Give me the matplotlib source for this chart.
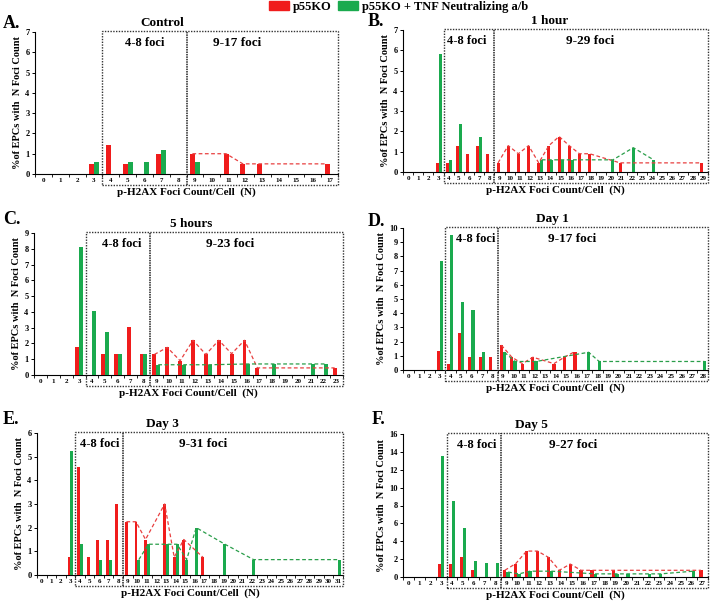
import matplotlib.pyplot as plt
from matplotlib.patches import Rectangle, Patch
import matplotlib.transforms as mtransforms
import numpy as np

plt.rcParams['font.family'] = ['Liberation Serif', 'DejaVu Serif']
plt.rcParams['font.weight'] = 'bold'
plt.rcParams['axes.labelweight'] = 'bold'

RED = '#f01c1c'
GREEN = '#1aaa4e'

# % of EPCs with N foci, index = N (foci count per cell)
control_red = [0, 0, 0, 0.5, 1.45, 0.5, 0, 1.0, 0, 1.0, 0, 1.0, 0.5, 0.5, 0, 0, 0, 0.5]
control_green = [0, 0, 0, 0.6, 0, 0.6, 0.6, 1.2, 0, 0.6, 0, 0, 0, 0, 0, 0, 0, 0]

hour1_red = [0, 0, 0, 0.45, 0.45, 1.3, 0.9, 1.3, 0.9, 0.45, 1.3, 0.9, 1.3, 0.45, 1.3,
             1.75, 1.3, 0.9, 0.9, 0, 0, 0.45, 0, 0, 0, 0, 0, 0, 0, 0.45]
hour1_green = [0, 0, 0, 5.8, 0.6, 2.35, 0, 1.75, 0, 0, 0, 0, 0, 0.6, 0.6,
               0.6, 0.6, 0, 0, 0, 0.6, 0, 1.2, 0, 0.6, 0, 0, 0, 0, 0]

hour5_red = [0, 0, 0, 1.75, 0, 1.3, 1.3, 3.05, 1.3, 1.3, 1.75, 0.9, 2.2, 1.3, 2.2,
             1.35, 2.2, 0.45, 0, 0, 0, 0, 0, 0.45]
hour5_green = [0, 0, 0, 8.1, 4.05, 2.7, 1.35, 0, 1.35, 0.65, 0, 0.65, 0, 0.65, 0,
               0, 0.7, 0, 0.7, 0, 0, 0.7, 0.7, 0]

day1_red = [0, 0, 0, 1.35, 0.45, 2.6, 0.9, 0.9, 0.9, 1.75, 0.9, 0.45, 0.9, 0, 0.45,
            0.9, 1.3, 0, 0, 0, 0, 0, 0, 0, 0, 0, 0, 0, 0]
day1_green = [0, 0, 0, 7.7, 9.5, 4.8, 4.2, 1.25, 0, 1.25, 0.6, 0, 0.6, 0, 0,
              0, 0, 1.25, 0.6, 0, 0, 0, 0, 0, 0, 0, 0, 0, 0.6]

day3_red = [0, 0, 0, 0.75, 4.55, 0.75, 1.5, 1.5, 3.0, 2.25, 2.25, 1.5, 0, 3.0, 0.75,
            1.5, 0, 0.75, 0, 0, 0, 0, 0, 0, 0, 0, 0, 0, 0, 0, 0, 0]
day3_green = [0, 0, 0, 5.25, 1.3, 0, 0.65, 0.65, 0, 0, 0.65, 1.3, 0, 1.3, 1.3,
              0.65, 2.0, 0, 0, 1.3, 0, 0, 0.65, 0, 0, 0, 0, 0, 0, 0, 0, 0.65]

day5_red = [0, 0, 0, 1.5, 1.5, 2.2, 0.75, 0, 0, 0.75, 1.5, 2.9, 2.9, 2.2, 0.75,
            1.45, 0.75, 0.75, 0, 0.75, 0, 0, 0, 0, 0, 0, 0, 0.75]
day5_green = [0, 0, 0, 13.5, 8.5, 5.5, 1.8, 1.55, 1.55, 0.55, 0.35, 0.65, 0, 0.65, 0,
              0, 0, 0.35, 0, 0.35, 0.35, 0, 0.35, 0.35, 0, 0, 0.65, 0]

letters = ['A.', 'B.', 'C.', 'D.', 'E.', 'F.']
titles = ['Control', '1 hour', '5 hours', 'Day 1', 'Day 3', 'Day 5']
high_labels = ['9-17 foci', '9-29 foci', '9-23 foci', '9-17 foci', '9-31 foci', '9-27 foci']
y_tops = [7, 7, 9, 10, 6, 16]
y_steps = [1, 1, 1, 1, 1, 2]
green_line_start = [9, 13, 9, 9, 10, 9]
reds = [control_red, hour1_red, hour5_red, day1_red, day3_red, day5_red]
greens = [control_green, hour1_green, hour5_green, day1_green, day3_green, day5_green]

# layout in pixels: left, right, top, bottom of each axes
W, H = 713, 603
boxes = [(35, 338, 32, 174), (403, 708, 30, 172), (34, 343, 233, 375),
         (403, 708, 228, 370), (37, 343, 433, 575), (403, 708, 434, 577)]
letter_pos = [(3, 23), (368, 22), (3, 220), (368, 222), (3, 420), (372, 420)]
title_x = [0.42, 0.48, 0.51, 0.49, 0.41, 0.42]
low_x = [6.0, 5.8, 6.3, 6.4, 6.1, 6.3]
high_x = [11.5, 17.9, 14.7, 15.6, 16.9, 15.1]

fig = plt.figure(figsize=(W / 100, H / 100), dpi=100)

for i in range(6):
    l, r, t, b = boxes[i]
    ax = fig.add_axes([l / W, 1 - b / H, (r - l) / W, (b - t) / H])
    red = np.array(reds[i])
    green = np.array(greens[i])
    n = np.arange(len(red))
    nmax = len(red) - 1

    ax.bar(n - 0.15, red, width=0.3, color=RED, zorder=3)
    ax.bar(n + 0.15, green, width=0.3, color=GREEN, zorder=3)

    # dashed trend lines over the 9+ foci range
    sel = (n >= 9) & (red > 0)
    ax.plot(n[sel] - 0.15, red[sel], ls=(0, (3, 2)), color='#e84040', lw=0.9, zorder=4)
    sel = (n >= green_line_start[i]) & (green > 0)
    ax.plot(n[sel] + 0.15, green[sel], ls=(0, (3, 2)), color='#2a9e4a', lw=0.9, zorder=4)

    ax.set_xlim(-0.5, nmax + 0.5)
    ax.set_ylim(0, y_tops[i])
    ax.set_yticks(np.arange(0, y_tops[i] + 0.1, y_steps[i]))
    ax.set_xticks(n)
    ax.set_xticks(np.arange(-0.5, nmax + 1, 1), minor=True)
    ax.tick_params(axis='x', which='major', length=0, labelsize=5, pad=3)
    ax.tick_params(axis='x', which='minor', length=2, width=0.6)
    ax.tick_params(axis='y', length=2.5, width=0.7, labelsize=6, pad=1.5)
    for s in ['top', 'right']:
        ax.spines[s].set_visible(False)
    ax.spines['left'].set_linewidth(0.8)
    ax.spines['bottom'].set_linewidth(0.8)

    ax.set_ylabel('%of EPCs with  N Foci Count', fontsize=7.5, labelpad=2)
    ax.set_xlabel('p-H2AX Foci Count/Cell  (N)', fontsize=8, labelpad=3)

    trans = mtransforms.blended_transform_factory(ax.transData, ax.transAxes)
    box = Rectangle((3.5, -0.075), nmax - 3.0, 1.08, transform=trans, fill=False,
                    ls=(0, (1, 1)), lw=1.0, color='#333333', clip_on=False, zorder=5)
    ax.add_patch(box)
    ax.plot([8.5, 8.5], [-0.075, 1.005], transform=trans, color='#222222',
            ls=(0, (1, 0.6)), lw=1.1, clip_on=False, zorder=5)

    ax.text(low_x[i], 0.92, '4-8 foci', transform=trans, ha='center', va='center', fontsize=9)
    ax.text(high_x[i], 0.92, high_labels[i], transform=trans, ha='center', va='center', fontsize=9.5)
    ax.text(title_x[i], 1.065, titles[i], transform=ax.transAxes, ha='center', va='center',
            fontsize=9.5)
    lx, ly = letter_pos[i]
    fig.text(lx / W, 1 - ly / H, letters[i], ha='left', va='center', fontsize=13)

handles = [Patch(color=RED, label='p55KO'),
           Patch(color=GREEN, label='p55KO + TNF Neutralizing a/b')]
fig.legend(handles=handles, loc='upper left', bbox_to_anchor=(269 / W, 0.999), ncol=2,
           frameon=False, fontsize=9, handlelength=1.6, handleheight=0.8,
           handletextpad=0.3, columnspacing=0.5, borderpad=0, borderaxespad=0)

fig.savefig('out.png', dpi=100)
